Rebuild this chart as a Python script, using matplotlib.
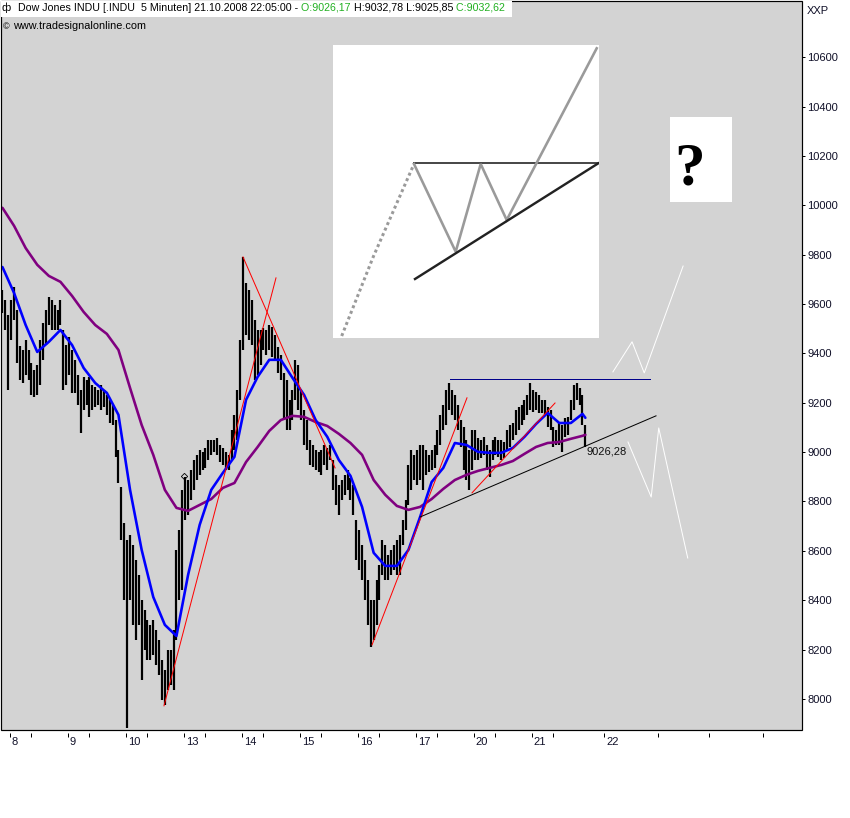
import matplotlib
matplotlib.use("Agg")
import matplotlib.pyplot as plt
import matplotlib.transforms as mtransforms
from matplotlib.patches import Rectangle
import numpy as np

# ---------------- data ----------------
# time axis in trading-day units, Oct 8 session = 0; one bar every 0.05 day
bar_t0 = -0.125
bar_step = 0.05

bar_high = [
    9657, 9617, 9556, 9617, 9669, 9576, 9430, 9414, 9455, 9414,
    9361, 9333, 9353, 9455, 9524, 9576, 9629, 9617, 9597, 9576,
    9617, 9495, 9434, 9467, 9414, 9374, 9313, 9252, 9305, 9293,
    9305, 9272, 9264, 9252, 9272, 9252, 9232, 9212, 9191, 9130,
    9009, 8859, 8713, 8644, 8664, 8624, 8563, 8503, 8401, 8361,
    8320, 8300, 8320, 8280, 8239, 8158, 8118, 8199, 8199, 8280,
    8604, 8685, 8847, 8900, 8887, 8928, 8968, 8989, 9009, 9001,
    9017, 9049, 9049, 9049, 9058, 9029, 9017, 9001, 8989, 9090,
    9151, 9252, 9455, 9791, 9686, 9657, 9617, 9536, 9495, 9495,
    9503, 9495, 9516, 9507, 9475, 9426, 9394, 9321, 9293, 9212,
    9252, 9374, 9353, 9252, 9171, 9130, 9049, 9029, 9009, 9001,
    9009, 9029, 9017, 9029, 8968, 8908, 8867, 8887, 8908, 8928,
    8895, 8867, 8725, 8685, 8624, 8563, 8482, 8401, 8401, 8482,
    8543, 8644, 8624, 8583, 8604, 8624, 8644, 8664, 8725, 8806,
    8948, 9009, 8989, 9009, 9029, 9029, 9009, 8989, 9009, 9029,
    9090, 9151, 9191, 9252, 9280, 9252, 9232, 9191, 9130, 9102,
    9049, 9009, 9090, 9090, 9058, 9049, 9062, 9029, 9009, 9049,
    9062, 9049, 9049, 9041, 9090, 9110, 9118, 9171, 9183, 9191,
    9212, 9232, 9280, 9252, 9244, 9232, 9212, 9212, 9183, 9171,
    9102, 9090, 9118, 9110, 9139, 9143, 9212, 9272, 9280, 9260,
    9232, 9110,
]
bar_low = [
    9564, 9495, 9252, 9455, 9536, 9361, 9293, 9280, 9313, 9293,
    9232, 9224, 9232, 9272, 9374, 9434, 9516, 9495, 9495, 9495,
    9516, 9252, 9272, 9313, 9240, 9240, 9191, 9078, 9171, 9191,
    9143, 9171, 9183, 9191, 9171, 9183, 9151, 9118, 9110, 8981,
    8875, 8644, 8401, 7882, 8401, 8300, 8239, 8300, 8077, 8199,
    8158, 8158, 8178, 8138, 8097, 7996, 7976, 8036, 8057, 8036,
    8239, 8401, 8442, 8725, 8745, 8806, 8847, 8887, 8908, 8928,
    8936, 8968, 8989, 9001, 8989, 8960, 8948, 8928, 8928, 8968,
    9009, 9049, 9212, 9414, 9475, 9455, 9434, 9293, 9313, 9353,
    9414, 9394, 9414, 9386, 9374, 9321, 9293, 9130, 9090, 9090,
    9130, 9212, 9171, 9130, 9029, 9009, 8948, 8940, 8928, 8920,
    8908, 8948, 8928, 8968, 8847, 8786, 8746, 8806, 8826, 8847,
    8806, 8746, 8563, 8523, 8482, 8401, 8300, 8211, 8239, 8300,
    8401, 8503, 8482, 8482, 8503, 8523, 8503, 8503, 8624, 8685,
    8786, 8847, 8887, 8867, 8887, 8847, 8908, 8920, 8928, 8936,
    8989, 9029, 9090, 9110, 9171, 9151, 9130, 9090, 9021, 8928,
    8887, 8847, 8928, 8968, 8968, 8977, 8989, 8928, 8900, 8968,
    8989, 8981, 8968, 8977, 9009, 9021, 9049, 9070, 9090, 9110,
    9130, 9151, 9171, 9163, 9171, 9159, 9159, 9151, 9102, 9090,
    9021, 9029, 9029, 9001, 9062, 9070, 9130, 9171, 9212, 9191,
    9110, 9021,
]

# moving averages read every 4th bar (plus the last bar)
ma_bar_index = list(range(0, 202, 4)) + [201]
ma_fast = [
    9750, 9645, 9515, 9406, 9447, 9495, 9434, 9341, 9280, 9240,
    9151, 8847, 8604, 8413, 8300, 8255, 8502, 8705, 8847, 8916,
    8981, 9212, 9305, 9374, 9374, 9301, 9232, 9130, 9062, 8968,
    8904, 8778, 8592, 8539, 8539, 8604, 8737, 8879, 8936, 9037,
    9029, 9001, 8997, 8997, 9017, 9062, 9114, 9159, 9118, 9118,
    9155, 9139,
]
ma_slow = [
    9990, 9917, 9827, 9759, 9714, 9690, 9633, 9568, 9515, 9479,
    9414, 9260, 9110, 8989, 8847, 8774, 8762, 8786, 8810, 8855,
    8875, 8960, 9021, 9086, 9130, 9147, 9143, 9122, 9106, 9074,
    9037, 8989, 8887, 8827, 8782, 8766, 8778, 8810, 8851, 8887,
    8908, 8924, 8936, 8948, 8964, 8993, 9021, 9037, 9041, 9054,
    9066, 9070,
]

# drawn trend lines (t, price)
red_line_t = [[2.660, 4.591], [4.022, 5.609], [6.247, 7.884], [7.971, 9.402]]
red_line_p = [[7972, 9706], [9791, 8936], [8219, 9220], [8835, 9199]]
support_t = [7.074, 11.143]
support_p = [8737, 9147]
resist_t = [7.591, 11.04]
resist_p = [9297, 9297]
white_up_t = [10.40, 10.73, 10.94, 11.61]
white_up_p = [9325, 9447, 9321, 9754]
white_dn_t = [10.66, 11.06, 11.19, 11.69]
white_dn_p = [9041, 8818, 9098, 8571]
session_marker = (3.005, 8904)
last_label = "9026,28"
last_label_pos = (9.953, 9001)

# axis ticks
day_tick_pos = [0, 1, 2, 3, 4, 5, 6, 7, 8, 9, 10.25]
day_tick_lab = ["8", "9", "10", "13", "14", "15", "16", "17", "20", "21", "22"]
extra_tick_pos = [11.17, 12.06, 12.99]
minor_tick_pos = [d + 0.362 for d in range(10)]
price_ticks = list(range(8000, 10601, 200))

# inset sketch (local units of the inset box)
inset_dotted_x = [8.7, 40.3, 81]
inset_dotted_y = [291, 211.7, 119]
inset_zig_x = [81, 122.7, 147.7, 173.7, 263.7]
inset_zig_y = [119, 206.7, 119, 175, 3.3]
inset_hline_x = [81, 266]
inset_hline_y = [118.3, 118.3]
inset_sup_x = [82, 265.3]
inset_sup_y = [234, 118.3]

# header texts
header_pieces = ["Dow Jones INDU [.INDU  5 Minuten] 21.10.2008 22:05:00 -",
                 " O:9026,17", " H:9032,78 L:9025,85", " C:9032,62"]
header_colors = ['black', '#22b022', 'black', '#22b022']

# ---------------- figure ----------------
plt.rcParams['font.family'] = ['Liberation Sans', 'DejaVu Sans']
W, H, DPI = 850, 818, 100
fig = plt.figure(figsize=(W / DPI, H / DPI), dpi=DPI, facecolor='white')


def fx(px):
    return px / W


def fy(py):
    return 1 - py / H


PX = 72.0 / DPI  # one pixel in points

ax = fig.add_axes([fx(1), fy(730), fx(802) - fx(1), fy(1) - fy(730)])
ax.set_facecolor('#d3d3d3')
ax.set_xlim(-0.15, 13.66)
ax.set_ylim(7874, 10828)

bar_t = bar_t0 + bar_step * np.arange(len(bar_high))
ax.vlines(bar_t, bar_low, bar_high, color='black', lw=2.2 * PX, zorder=3)

ma_t = bar_t[ma_bar_index]
ax.plot(ma_t, ma_slow, color='#800080', lw=2.6 * PX, zorder=4, solid_capstyle='round')
ax.plot(ma_t, ma_fast, color='#0000ff', lw=2.6 * PX, zorder=5, solid_capstyle='round')

for tt, pp in zip(red_line_t, red_line_p):
    ax.plot(tt, pp, color='#ff0000', lw=1 * PX, zorder=6)
ax.plot(support_t, support_p, color='black', lw=1 * PX, zorder=6)
ax.plot(resist_t, resist_p, color='#00008b', lw=1 * PX, zorder=6)
ax.plot(white_up_t, white_up_p, color='white', lw=1 * PX, zorder=6)
ax.plot(white_dn_t, white_dn_p, color='white', lw=1 * PX, zorder=6)
ax.plot([session_marker[0]], [session_marker[1]], marker='D', ms=3.2,
        mfc='none', mec='black', mew=0.6, zorder=7)
ax.text(last_label_pos[0], last_label_pos[1], last_label, fontsize=8,
        ha='left', va='center', color='#111111', zorder=8)

# spines / frame
for s in ax.spines.values():
    s.set_color('none')
ax.spines['bottom'].set_position(('outward', 3 * PX))
ax.add_patch(Rectangle((0, 0), 1, 1, transform=ax.transAxes, fill=False,
                       ec='black', lw=1.2 * PX, clip_on=False, zorder=20))

ax.set_xticks(day_tick_pos + extra_tick_pos)
ax.set_xticklabels([])
ax.set_xticks(minor_tick_pos, minor=True)
ax.tick_params(axis='x', which='both', direction='out', length=4 * PX,
               width=1 * PX, color='black')
trans = (mtransforms.blended_transform_factory(ax.transData, ax.transAxes)
         + mtransforms.ScaledTranslation(2 / DPI, -7 / DPI, fig.dpi_scale_trans))
for p, lab in zip(day_tick_pos, day_tick_lab):
    ax.text(p, 0, lab, transform=trans, ha='left', va='top', fontsize=8,
            color='#101028')

ax.yaxis.tick_right()
ax.set_yticks(price_ticks)
ax.set_yticklabels([str(v) for v in price_ticks])
ax.tick_params(axis='y', direction='out', length=3 * PX, width=1 * PX,
               pad=1.5, labelsize=8, labelcolor='#101028', color='black')

# question box
ax.add_patch(Rectangle((0.8352, 0.7243), 0.0774, 0.1166, transform=ax.transAxes,
                       facecolor='white', edgecolor='none', zorder=9))
ax.text(0.8596, 0.7476, '?', transform=ax.transAxes, ha='center', va='baseline',
        fontsize=44, fontweight='bold', family='Liberation Serif', zorder=10)

# inset sketch
ins = fig.add_axes([fx(333), fy(338), fx(599) - fx(333), fy(45) - fy(338)])
ins.set_facecolor('white')
ins.set_xlim(0, 266)
ins.set_ylim(293, 0)
ins.set_xticks([])
ins.set_yticks([])
for s in ins.spines.values():
    s.set_visible(False)
ins.plot(inset_dotted_x, inset_dotted_y, color='#9a9a9a', lw=3 * PX,
         linestyle=(0, (1, 1)))
ins.plot(inset_hline_x, inset_hline_y, color='#4a4a4a', lw=2 * PX)
ins.plot(inset_zig_x, inset_zig_y, color='#9a9a9a', lw=2.6 * PX,
         solid_joinstyle='miter')
ins.plot(inset_sup_x, inset_sup_y, color='#222222', lw=2.4 * PX)

# header
fig.add_artist(Rectangle((fx(1), fy(17)), fx(512) - fx(1), fy(1) - fy(17),
                         transform=fig.transFigure, facecolor='white',
                         edgecolor='none', zorder=1))
fig.text(fx(2), fy(11), 'ф', fontsize=8, va='baseline', zorder=3)
fig.canvas.draw()
renderer = fig.canvas.get_renderer()
x_px = 18.0
for txt, col in zip(header_pieces, header_colors):
    t = fig.text(fx(x_px), fy(11), txt, fontsize=7.7, va='baseline',
                 ha='left', color=col, zorder=3)
    bb = t.get_window_extent(renderer=renderer)
    x_px = bb.x1
fig.text(fx(3), fy(29), '©', fontsize=6.5, va='baseline', zorder=3)
fig.text(fx(13), fy(29), 'www.tradesignalonline.com', fontsize=7.8,
         va='baseline', zorder=3)
fig.text(fx(807), fy(14), 'XXP', fontsize=8, va='baseline', color='#101028')

fig.savefig('out.png', dpi=DPI, facecolor='white')
